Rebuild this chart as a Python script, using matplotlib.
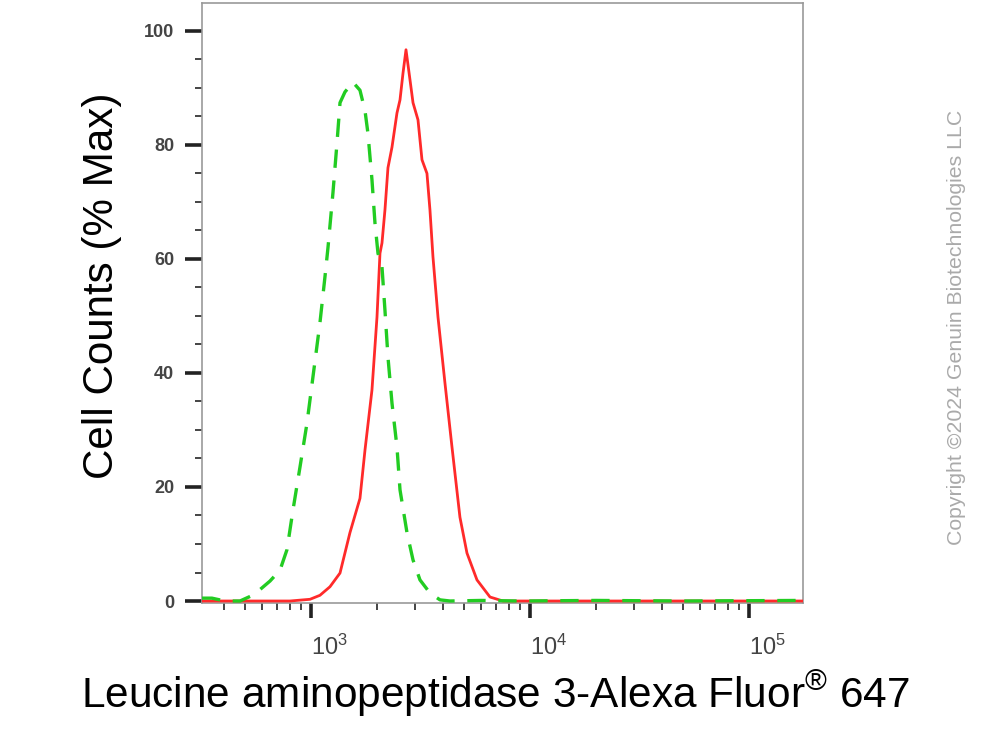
import matplotlib
matplotlib.use("Agg")
import matplotlib.pyplot as plt
from matplotlib.ticker import LogLocator, FixedLocator, FuncFormatter, NullFormatter
import numpy as np

plt.rcParams['font.family'] = ['Liberation Sans', 'DejaVu Sans']
plt.rcParams['mathtext.fontset'] = 'custom'
plt.rcParams['mathtext.rm'] = 'Liberation Sans'
plt.rcParams['mathtext.it'] = 'Liberation Sans'
plt.rcParams['mathtext.bf'] = 'Liberation Sans:bold'

# ---- data (fluorescence intensity, % of max) ----
isotype_x = [318, 353, 405, 474, 527, 585, 650, 722, 777, 828, 891, 959, 1021, 1099,
             1158, 1196, 1260, 1315, 1357, 1430, 1555, 1674, 1765, 1821, 1899, 1960,
             2023, 2110, 2177, 2247, 2344, 2470, 2550, 2744, 2924, 3146, 3494, 3882,
             4312, 6000, 9000, 20000, 50000, 176500]
isotype_y = [0.5, 0.5, 0.0, 0.0, 0.8, 2.0, 3.5, 5.4, 9.0, 16.0, 23.5, 31.2, 39.3, 48.8,
             56.8, 62.0, 71.6, 80.4, 87.4, 89.3, 91.0, 89.6, 86.0, 82.0, 73.9, 66.3,
             61.0, 58.6, 51.0, 42.8, 34.7, 27.0, 19.5, 12.0, 7.2, 3.7, 1.4, 0.2,
             0.0, 0.1, 0.0, 0.1, 0.0, 0.1]

sample_x = [318, 802, 990, 1099, 1221, 1357, 1507, 1674, 1765, 1899, 2002, 2066, 2110,
            2177, 2247, 2344, 2470, 2550, 2632, 2716, 2833, 2924, 3081, 3213, 3386,
            3494, 3606, 3802, 4092, 4405, 4789, 5157, 5728, 6568, 7530, 176500]
sample_y = [0.0, 0.0, 0.3, 1.0, 2.5, 4.9, 12.0, 18.0, 26.5, 37.0, 49.8, 61.0, 62.8,
            68.6, 76.0, 79.6, 85.6, 87.9, 92.6, 96.7, 91.4, 87.4, 84.4, 77.4, 75.0,
            68.6, 60.4, 49.8, 38.2, 27.0, 14.7, 8.4, 3.7, 0.7, 0.0, 0.0]

y_major = [0, 20, 40, 60, 80, 100]
x_major = [1e3, 1e4, 1e5]

xlabel = "Leucine aminopeptidase 3-Alexa Fluor$^{®}$ 647"
ylabel = "Cell Counts (% Max)"
copyright_text = "Copyright ©2024 Genuin Biotechnologies LLC"

fig = plt.figure(figsize=(9.87, 7.30), dpi=100)
ax = fig.add_axes([202/987, 1-603/730, (803-202)/987, 600/730])

ax.plot(sample_x, sample_y, color='#ff2a2a', lw=2.0, solid_joinstyle='round', zorder=3)
ax.plot(isotype_x, isotype_y, color='#22cc22', lw=2.4, ls=(0, (5.5, 3.8)), zorder=4)

ax.set_xscale('log')
ax.set_xlim(318, 176500)
ax.set_ylim(-0.35, 104.9)

for s in ax.spines.values():
    s.set_color('#999999')
    s.set_linewidth(1.2)

ax.yaxis.set_major_locator(FixedLocator(y_major))
ax.yaxis.set_minor_locator(FixedLocator(np.arange(5, 105, 5)))
ax.xaxis.set_major_locator(FixedLocator(x_major))
ax.xaxis.set_minor_locator(LogLocator(base=10, subs=np.arange(2, 10), numticks=20))
ax.xaxis.set_minor_formatter(NullFormatter())
ax.xaxis.set_major_formatter(FuncFormatter(lambda v, p: r"$10^{%d}$" % int(round(np.log10(v)))))

ax.tick_params(axis='y', which='major', direction='out', length=12, width=2.6,
               color='#222222', labelsize=13, labelcolor='#444444', pad=8)
ax.tick_params(axis='y', which='minor', direction='out', length=5, width=1.4, color='#444444')
ax.tick_params(axis='x', which='major', direction='out', length=11, width=2.6,
               color='#222222', labelsize=17, labelcolor='#444444', pad=12)
ax.tick_params(axis='x', which='minor', direction='out', length=5, width=1.4, color='#444444')
for lab in ax.get_yticklabels():
    lab.set_fontweight('bold')
for lab in ax.get_xticklabels():
    lab.set_horizontalalignment('left')

ax.set_xlabel(xlabel, fontsize=30.5, color='black', labelpad=6)
ax.xaxis.label.set_x((495 - 202) / 601)
ax.set_ylabel(ylabel, fontsize=30.3, color='black', labelpad=16)
ax.yaxis.label.set_y((603 - 286) / 600)

fig.text(957/987, 1-327/730, copyright_text, rotation=90, ha='center', va='center',
         fontsize=15.3, color='#aaaaaa')

fig.savefig('out.png', dpi=100)
